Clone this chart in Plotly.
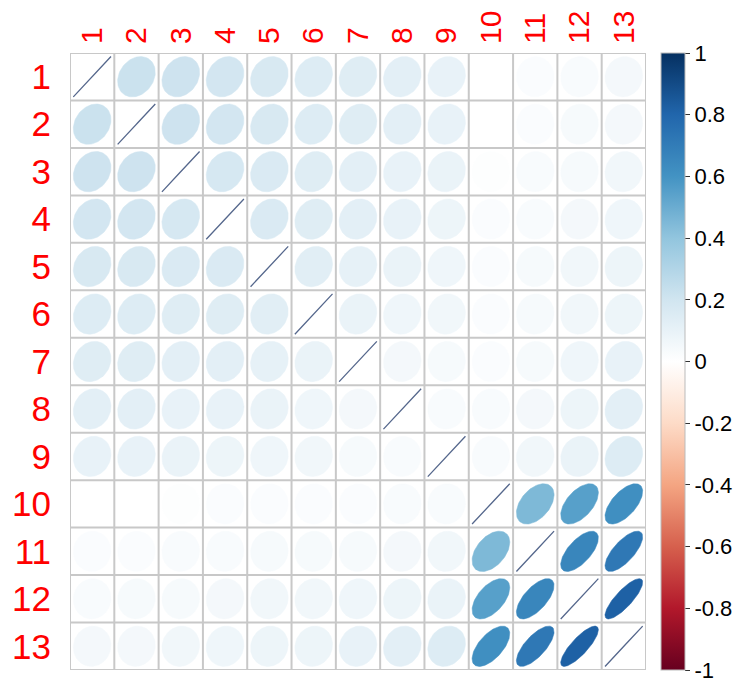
import numpy as np
import plotly.graph_objects as go

labels = [str(i) for i in range(1, 14)]

# upper-triangle correlations (row i, columns i+1..13)
upper_1 = [0.22, 0.21, 0.19, 0.17, 0.15, 0.14, 0.12, 0.10, 0.00, 0.02, 0.03, 0.05]
upper_2 = [0.21, 0.19, 0.17, 0.15, 0.14, 0.12, 0.10, 0.00, 0.02, 0.04, 0.05]
upper_3 = [0.18, 0.16, 0.14, 0.12, 0.10, 0.09, 0.01, 0.03, 0.04, 0.06]
upper_4 = [0.16, 0.14, 0.12, 0.10, 0.08, 0.02, 0.03, 0.05, 0.07]
upper_5 = [0.13, 0.11, 0.09, 0.07, 0.02, 0.04, 0.06, 0.08]
upper_6 = [0.09, 0.07, 0.06, 0.02, 0.04, 0.06, 0.08]
upper_7 = [0.05, 0.04, 0.02, 0.04, 0.07, 0.10]
upper_8 = [0.03, 0.03, 0.05, 0.08, 0.12]
upper_9 = [0.03, 0.06, 0.09, 0.15]
upper_10 = [0.45, 0.55, 0.62]
upper_11 = [0.66, 0.72]
upper_12 = [0.82]

uppers = [upper_1, upper_2, upper_3, upper_4, upper_5, upper_6, upper_7,
          upper_8, upper_9, upper_10, upper_11, upper_12]

n = len(labels)
corr = np.eye(n)
for i, row in enumerate(uppers):
    for k, v in enumerate(row):
        j = i + 1 + k
        corr[i, j] = v
        corr[j, i] = v

palette = ["#67001F", "#B2182B", "#D6604D", "#F4A582", "#FDDBC7", "#FFFFFF",
           "#D1E5F0", "#92C5DE", "#4393C3", "#2166AC", "#053061"]
stops = np.linspace(-1, 1, len(palette))
rgb = np.array([[int(c[i:i + 2], 16) for i in (1, 3, 5)] for c in palette])


def col_for(r):
    ch = [np.interp(r, stops, rgb[:, k]) for k in range(3)]
    return "rgb(%d,%d,%d)" % tuple(int(round(c)) for c in ch)


colorscale = [[(s + 1) / 2, c] for s, c in zip(stops, palette)]

fig = go.Figure()
t = np.linspace(0, 2 * np.pi, 99)
for i in range(n):
    for j in range(n):
        r = corr[i, j]
        d = np.arccos(np.clip(r, -1, 1))
        ex = (j + 1) + 0.85 * np.cos(t + d / 2) / 2
        ey = (i + 1) - 0.85 * np.cos(t - d / 2) / 2
        if i == j:
            fig.add_trace(go.Scatter(x=ex, y=ey, mode="lines",
                                     line=dict(color="#55678c", width=1.3),
                                     hoverinfo="skip", showlegend=False))
        else:
            c = col_for(r)
            fig.add_trace(go.Scatter(x=ex, y=ey, mode="lines", fill="toself",
                                     fillcolor=c, line=dict(color=c, width=0.5),
                                     hoverinfo="skip", showlegend=False))

# colorbar carrier
fig.add_trace(go.Scatter(
    x=[None], y=[None], mode="markers", showlegend=False, hoverinfo="skip",
    marker=dict(color=[0], cmin=-1, cmax=1, colorscale=colorscale, showscale=True,
                colorbar=dict(x=1.026, xanchor="left", xpad=0, y=0.5, yanchor="middle",
                              ypad=0, len=1, lenmode="fraction", thickness=24,
                              outlinewidth=1, outlinecolor="#bbbbbb",
                              tickvals=[-1, -0.8, -0.6, -0.4, -0.2, 0, 0.2, 0.4, 0.6, 0.8, 1],
                              ticktext=["-1", "-0.8", "-0.6", "-0.4", "-0.2", "0",
                                        "0.2", "0.4", "0.6", "0.8", "1"],
                              ticks="outside", ticklen=5, tickcolor="#333333",
                              tickfont=dict(family="Liberation Sans, Arial", size=22,
                                            color="black")))))

shapes = []
for k in range(n + 1):
    p = 0.5 + k
    shapes.append(dict(type="line", x0=p, x1=p, y0=0.5, y1=n + 0.5, xref="x", yref="y",
                       line=dict(color="#c8c8c8", width=2), layer="above"))
    shapes.append(dict(type="line", x0=0.5, x1=n + 0.5, y0=p, y1=p, xref="x", yref="y",
                       line=dict(color="#c8c8c8", width=2), layer="above"))

fig.update_layout(
    width=748, height=688,
    margin=dict(l=62, r=110, t=45, b=26, autoexpand=False),
    paper_bgcolor="white", plot_bgcolor="white",
    shapes=shapes,
    xaxis=dict(range=[0.5, n + 0.5], side="top", tickvals=list(range(1, n + 1)),
               ticktext=labels, tickangle=-90, showgrid=False, zeroline=False,
               showline=False, ticks="", ticklabelstandoff=8, automargin=False,
               tickfont=dict(family="Liberation Sans, Arial", size=30, color="red")),
    yaxis=dict(range=[n + 0.5, 0.5], tickvals=list(range(1, n + 1)), ticktext=labels,
               showgrid=False, zeroline=False, showline=False, ticks="",
               ticklabelstandoff=18, automargin=False,
               tickfont=dict(family="Liberation Sans, Arial", size=35, color="red")),
)

fig.write_html("out.html")
